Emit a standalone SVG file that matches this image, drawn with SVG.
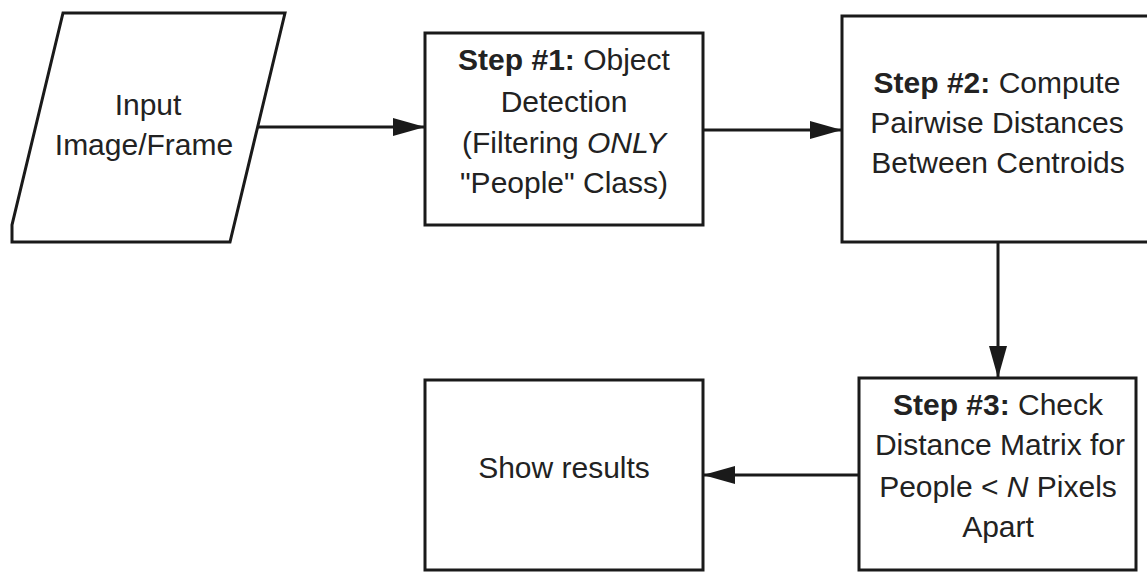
<svg xmlns="http://www.w3.org/2000/svg" width="1147" height="572" viewBox="0 0 1147 572">
  <style>
    .shape { fill: #ffffff; stroke: #1a1a1a; stroke-width: 3; }
    .conn { fill: none; stroke: #1a1a1a; stroke-width: 3; }
    .txt { font-family: "Liberation Sans", Arial, sans-serif; font-size: 30px; fill: #222222; text-anchor: middle; }
    .b { font-weight: bold; }
    .i { font-style: italic; }
  </style>
  <defs>
    <marker id="arrow" viewBox="0 0 32 18" markerWidth="32" markerHeight="18" refX="32" refY="9" orient="auto" markerUnits="userSpaceOnUse">
      <path d="M0,0 L32,9 L0,18 Z" fill="#1a1a1a"/>
    </marker>
  </defs>
  <rect width="1147" height="572" fill="#ffffff"/>

  <g id="connectors">
    <line class="conn" x1="258" y1="127" x2="425" y2="127" marker-end="url(#arrow)"/>
    <line class="conn" x1="703" y1="130" x2="842" y2="130" marker-end="url(#arrow)"/>
    <line class="conn" x1="998" y1="242" x2="998" y2="378" marker-end="url(#arrow)"/>
    <line class="conn" x1="859" y1="475" x2="703" y2="475" marker-end="url(#arrow)"/>
  </g>

  <g id="input">
    <path class="shape" d="M63,13 L285,13 L230,242 L12,242 L12,225 Z"/>
    <text class="txt" x="148" y="115">Input</text>
    <text class="txt" x="144" y="155">Image/Frame</text>
  </g>

  <g id="step1">
    <rect class="shape" x="425" y="33" width="278" height="192"/>
    <text class="txt" x="564" y="70"><tspan class="b">Step #1:</tspan> Object</text>
    <text class="txt" x="564" y="112">Detection</text>
    <text class="txt" x="564" y="153">(Filtering <tspan class="i">ONLY</tspan></text>
    <text class="txt" x="564" y="193">"People" Class)</text>
  </g>

  <g id="step2">
    <rect class="shape" x="842" y="16" width="312" height="226"/>
    <text class="txt" x="997" y="93"><tspan class="b">Step #2:</tspan> Compute</text>
    <text class="txt" x="997" y="133">Pairwise Distances</text>
    <text class="txt" x="998" y="173">Between Centroids</text>
  </g>

  <g id="step3">
    <rect class="shape" x="859" y="378" width="277" height="192"/>
    <text class="txt" x="998" y="415"><tspan class="b">Step #3:</tspan> Check</text>
    <text class="txt" x="1000" y="455">Distance Matrix for</text>
    <text class="txt" x="998" y="497">People &lt; <tspan class="i">N</tspan> Pixels</text>
    <text class="txt" x="998" y="537">Apart</text>
  </g>

  <g id="results">
    <rect class="shape" x="425" y="380" width="278" height="190"/>
    <text class="txt" x="564" y="478">Show results</text>
  </g>
</svg>
